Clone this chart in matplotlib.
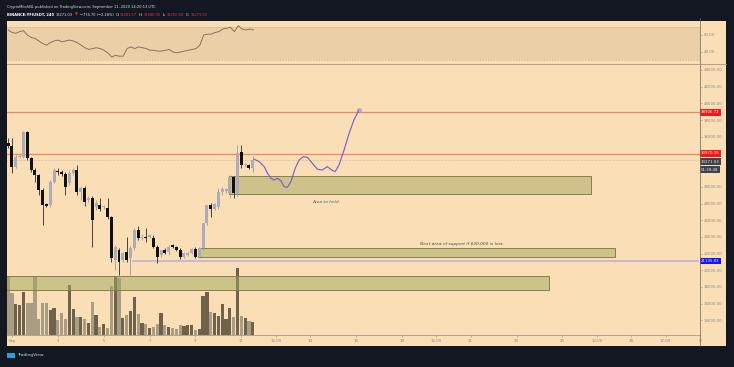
import numpy as np
import pandas as pd
import matplotlib
matplotlib.use("Agg")
import matplotlib.pyplot as plt
from matplotlib.patches import Rectangle

# 4h candles, YFIUSDT
opens = [35200, 34890, 32370, 33570, 33570, 36560, 33450, 32010, 31410, 29620,
         27940, 27820, 30580, 31890, 31770, 31530, 30460, 31650, 32010, 29380,
         29860, 28420, 28660, 27580, 27820, 27580, 27460, 26380, 21230, 22430,
         21230, 22190, 21470, 22670, 24830, 23870, 23990, 23990, 23870, 22790,
         21830, 22430, 22190, 23030, 22790, 22430, 21590, 21830, 22070, 22550,
         21590, 22670, 25670, 27820, 27340, 27580, 29380, 29500, 29260, 31170,
         29260, 34170, 32610, 32610, 32250]
highs = [35840, 35840, 33810, 33810, 36680, 36680, 33570, 32250, 31530, 29860,
         28060, 30810, 32250, 32250, 32010, 31770, 32010, 32250, 32610, 30100,
         30100, 28900, 28900, 28420, 28660, 27820, 28660, 26500, 23030, 22670,
         22190, 23990, 22910, 25070, 25310, 24350, 25070, 24350, 24230, 23030,
         22430, 22670, 23030, 23150, 22910, 22670, 22190, 22190, 22670, 22790,
         22790, 22910, 27820, 28060, 28060, 29860, 29980, 29860, 31410, 31290,
         35010, 35010, 32850, 32730, 33690]
lows = [34650, 31650, 32250, 33450, 33450, 33210, 31770, 30580, 29020, 25430,
        27580, 27580, 30460, 31410, 31290, 29020, 30220, 31410, 29020, 28420,
        27700, 28180, 22790, 27220, 27100, 27340, 26140, 20990, 20040, 19440,
        20990, 20990, 19440, 22430, 23630, 23630, 23390, 23870, 22670, 20870,
        21590, 21900, 21830, 22670, 22310, 21350, 21470, 21710, 21950, 21470,
        21470, 22430, 25430, 26380, 27220, 27340, 29020, 29260, 28660, 28660,
        28900, 32250, 32370, 32130, 31770]
closes = [34890, 32370, 33570, 33690, 36560, 33450, 32010, 31410, 29620, 27820,
          27700, 30580, 32010, 31770, 31530, 29980, 31650, 32010, 29380, 29860,
          28180, 28660, 26020, 28060, 27340, 27700, 26380, 21470, 22790, 20990,
          22070, 21230, 22670, 24830, 23870, 23990, 23870, 24230, 22790, 21590,
          22430, 22070, 22790, 22790, 22430, 21590, 22070, 22070, 22550, 21590,
          22670, 25670, 27820, 27340, 27940, 29380, 29740, 29740, 31170, 29260,
          34050, 32610, 32730, 32250, 33270]
volumes = [1770, 1260, 930, 900, 1290, 960, 960, 1770, 480, 960,
           960, 750, 810, 450, 660, 480, 1500, 780, 540, 540,
           480, 360, 990, 600, 240, 330, 210, 1470, 1740, 1710,
           510, 600, 720, 1140, 630, 360, 330, 210, 240, 330,
           660, 300, 240, 210, 180, 300, 270, 300, 300, 150,
           180, 1170, 1290, 690, 660, 570, 930, 480, 810, 540,
           2010, 570, 510, 420, 390]
rsi = [66, 63, 62, 64, 65, 60, 57, 56, 53, 50,
       48, 51, 53, 54, 52, 53, 54, 53, 51, 48,
       45, 43, 44, 45, 44, 42, 39, 34, 36, 35,
       35, 44, 46, 44, 46, 45, 44, 42, 42, 41,
       41, 42, 43, 40, 39, 40, 41, 42, 43, 44,
       48, 60, 61, 61, 63, 64, 67, 68, 69, 64,
       71, 67, 66, 67, 66]

times = pd.date_range("2020-08-31 20:00", periods=len(opens), freq="4h")
start = pd.Timestamp("2020-09-01")
days = np.asarray((times - start) / pd.Timedelta(days=1))

# hand drawn projection path (days since Sep 1, price)
proj_days = [10.57, 10.78, 11.00, 11.14, 11.29, 11.43, 11.58, 11.73, 11.87, 12.01,
             12.16, 12.35, 12.52, 12.70, 12.88, 13.10, 13.32, 13.53, 13.75, 13.94,
             14.09, 14.26, 14.48, 14.70, 14.91, 15.13]
proj_prices = [33290, 33010, 32410, 31620, 31020, 30810, 31020, 30690, 30010, 29940,
               30610, 32220, 33210, 33600, 33530, 32810, 32100, 32010, 32410, 32010,
               31810, 32610, 34410, 36410, 38000, 39200]

# zones: (day start, day end, price low, price high)
zone_hold = (9.48, 25.26, 29140, 31290)
zone_next = (8.09, 26.30, 21590, 22670)
zone_low = (-0.3, 23.43, 17640, 19320)

red_levels = [38906.72, 33970.15]
last_price = 33271.03
blue_level = 21135.83
blue_start = 5.26

tick_days = [0, 2, 4, 6, 8, 10, 11.5, 13, 15, 17, 18.5, 20, 22, 24, 25.5, 27, 28.5, 30]
tick_labels = ["Sep", "3", "5", "7", "9", "11", "12:00", "14", "16", "18", "12:00",
               "21", "23", "25", "12:00", "28", "12:00", "O"]
price_ticks = list(range(14000, 46000, 2000))
hidden_ticks = [32000, 34000]  # covered by the price tags in the screenshot

W, H = 734, 367
BG = "#fadeb6"
DARK = "#131722"


def rect(x0, y0, x1, y1):
  return [x0 / W, 1 - y1 / H, (x1 - x0) / W, (y1 - y0) / H]


fig = plt.figure(figsize=(W / 100, H / 100), dpi=100, facecolor=DARK)
fig.patches.append(Rectangle((7 / W, 1 - 346 / H), 719 / W, 325 / H,
                             transform=fig.transFigure, facecolor=BG, edgecolor="none", zorder=-5))

xlim = (-0.217, 29.91)
gray_txt = "#8a8a8a"
fs = 2.8

# RSI pane
ax_rsi = fig.add_axes(rect(7, 21, 700, 63))
ax_rsi.set_facecolor(BG)
ax_rsi.axhspan(30, 70, color="#ebcfa6", lw=0)
for lv in (30, 70):
  ax_rsi.axhline(lv, color="#c9ad88", lw=0.5, ls=(0, (2, 2)))
ax_rsi.plot(days, rsi, color="#7e6e5c", lw=0.65)
ax_rsi.set_xlim(xlim)
ax_rsi.set_ylim(27, 76.5)
ax_rsi.set_xticks([])
ax_rsi.yaxis.tick_right()
ax_rsi.set_yticks([40, 60])
ax_rsi.set_yticklabels(["40.00", "60.00"])
ax_rsi.tick_params(axis="y", labelsize=fs, colors=gray_txt, length=1.5, width=0.4, pad=1)
for s in ax_rsi.spines.values():
  s.set_visible(False)

# volume pane (under price)
ax_vol = fig.add_axes(rect(7, 64, 700, 335))
ax_vol.set_facecolor(BG)
vol_colors = ["#6f614a" if c >= o else "#aa9d86" for o, c in zip(opens, closes)]
ax_vol.bar(days, volumes, width=0.14, color=vol_colors, lw=0)
ax_vol.set_xlim(xlim)
ax_vol.set_ylim(0, 8130)
ax_vol.axis("off")

# price pane
ax = fig.add_axes(rect(7, 64, 700, 335), sharex=ax_vol)
ax.patch.set_visible(False)
ax.set_xlim(xlim)
ax.set_ylim(12250, 44710)

for z in (zone_hold, zone_next, zone_low):
  ax.add_patch(Rectangle((z[0], z[2]), z[1] - z[0], z[3] - z[2], facecolor="#9fa860",
                         alpha=0.5, edgecolor="none", zorder=1))
  ax.add_patch(Rectangle((z[0], z[2]), z[1] - z[0], z[3] - z[2], facecolor="none",
                         edgecolor="#857f4a", lw=0.7, zorder=1))

for lv in red_levels:
  ax.axhline(lv, color="#ef8467", lw=0.9, zorder=2)
ax.axhline(last_price, color="#a0a0a0", lw=0.4, ls=(0, (1, 1.5)), zorder=2)
ax.plot([blue_start, xlim[1]], [blue_level, blue_level], color="#cbb6d4", lw=1.4, zorder=2)

# candles
up = np.array(closes) >= np.array(opens)
wick_c = np.where(up, "#9a9aa0", "#2a2a2a")
ax.vlines(days, lows, highs, colors=wick_c, lw=0.6, zorder=3)
body_lo = np.minimum(opens, closes)
body_h = np.maximum(np.abs(np.array(closes) - np.array(opens)), 120)
ax.bar(days, body_h, bottom=body_lo, width=0.13,
       color=np.where(up, "#acacb6", "#101010"), lw=0, zorder=4)

# projection
ax.plot(proj_days, proj_prices, color="#6f5ccf", lw=0.8, zorder=5)
ax.plot(proj_days[-1], proj_prices[-1], "o", ms=2.5, mfc="none", mec="#8a7ad8", mew=0.6, zorder=5)

ax.text(13.7, 28180, "Area to hold.", fontsize=3.2, style="italic", color="#56607a",
        ha="center", va="center", zorder=6)
ax.text(19.6, 23150, "Next area of support if $30.000 is lost.", fontsize=3.2,
        style="italic", color="#4a4a4a", ha="center", va="center", zorder=6)

# axes
ax.yaxis.tick_right()
ax.set_yticks(price_ticks)
ax.set_yticklabels(["" if p in hidden_ticks else f"{p:.2f}" for p in price_ticks])
ax.tick_params(axis="y", labelsize=fs, colors=gray_txt, length=1.5, width=0.4, pad=1)
ax.set_xticks(tick_days)
ax.set_xticklabels(tick_labels)
ax.tick_params(axis="x", labelsize=fs, colors=gray_txt, length=1.5, width=0.4, pad=1.5)
for s in ax.spines.values():
  s.set_visible(False)
ax.spines["bottom"].set_visible(True)
ax.spines["bottom"].set_color("#9a8a78")
ax.spines["bottom"].set_linewidth(0.5)

# price tags on the right scale (TradingView stacks them so they don't collide)
tags = [(red_levels[0], f"{red_levels[0]:.2f}", "#f01818", "white"),
        (33990, f"{red_levels[1]:.2f}", "#f01818", "white"),
        (33020, f"{last_price:.2f}", "#3d4250", "#e8e8e8"),
        (32050, "01:39:48", "#3d4250", "#e8e8e8"),
        (blue_level, f"{blue_level:.2f}", "#1414f0", "white")]
trans = ax.get_yaxis_transform()
for y, s, bg, fg in tags:
  ax.text(1.0015, y, s, transform=trans, fontsize=fs, color=fg, ha="left", va="center",
          clip_on=False, zorder=10,
          bbox=dict(boxstyle="square,pad=0.32", fc=bg, ec="none"))

# separators
fig.add_artist(plt.Line2D([700 / W, 700 / W], [1 - 346 / H, 1 - 18 / H], color="#6c6458", lw=0.5))
fig.add_artist(plt.Line2D([7 / W, 726 / W], [1 - 63.5 / H, 1 - 63.5 / H], color="#a89880", lw=0.6))

# header
fig.text(7 / W, 1 - 7 / H, "CryptoMitchNL published on TradingView.com, September 11, 2020 14:20:13 UTC",
         fontsize=2.6, color="#e0e0e0", va="center")
hdr = [("BINANCE:YFIUSDT, 240", "white", "bold"), ("33271.03", "#e0e0e0", "normal"),
       ("\u25bc", "#e83030", "normal"), ("\u2212774.70 (\u22122.28%)", "#e0e0e0", "normal"),
       ("O:", "#e0e0e0", "normal"), ("33281.57", "#e83040", "normal"),
       ("H:", "#e0e0e0", "normal"), ("33480.00", "#e83040", "normal"),
       ("L:", "#e0e0e0", "normal"), ("31250.00", "#e83040", "normal"),
       ("C:", "#e0e0e0", "normal"), ("33271.03", "#e83040", "normal")]
renderer = fig.canvas.get_renderer()
xpos = 7.0
for s, c, w in hdr:
  t = fig.text(xpos / W, 1 - 15 / H, s, fontsize=2.6, color=c, fontweight=w, va="center")
  bb = t.get_window_extent(renderer)
  gap = 0.6 if s.endswith(":") else 2.0
  xpos += bb.width + gap

# footer logo
fig.patches.append(Rectangle((7 / W, 1 - 358 / H), 8 / W, 5 / H, transform=fig.transFigure,
                             facecolor="#2d9cdb", edgecolor="none"))
fig.text(17 / W, 1 - 355 / H, "TradingView", fontsize=3.2, color="#d8d8d8", va="center")

fig.savefig("out.png", dpi=100, facecolor=DARK)
